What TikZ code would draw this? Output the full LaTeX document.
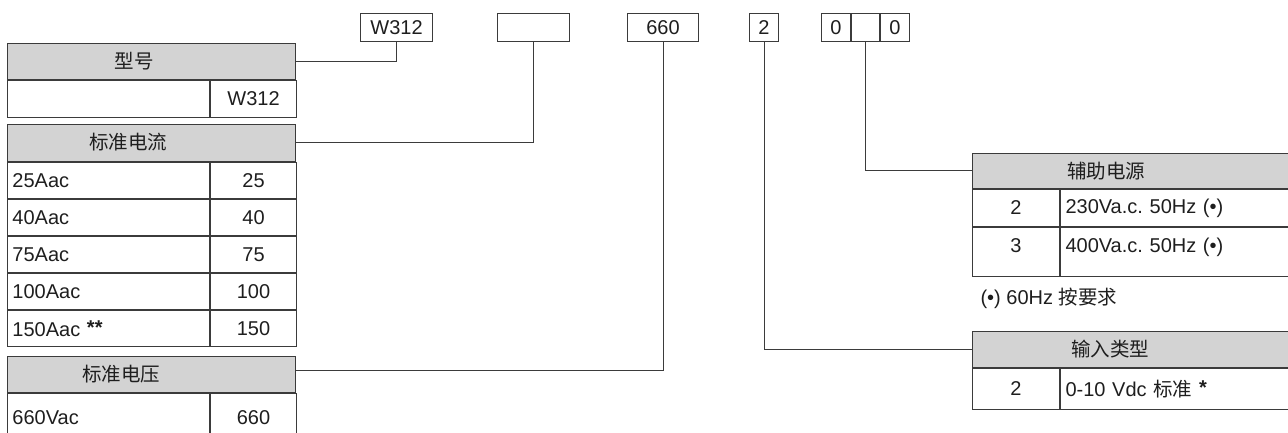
\documentclass[tikz,border=0pt]{standalone}
\usepackage{fontspec}
\setmainfont{Liberation Sans}
\newfontfamily\cjk{Noto Sans CJK SC}
\usepackage{tikz}
\usetikzlibrary{positioning}
\definecolor{ln}{HTML}{3B3B3B}
\definecolor{hd}{HTML}{D3D3D3}
\definecolor{tx}{HTML}{1E1E1E}
\newcommand{\Zh}[1]{{\cjk\fontsize{19.5}{23}\selectfont #1}}
\newcommand{\Ast}[1]{\raisebox{2pt}{\textbf{#1}}}
\frenchspacing
\tikzset{
  every node/.style={font=\fontsize{20}{24}\selectfont, text=tx},
  hdbox/.style={draw=ln, fill=hd, line width=1pt, inner sep=0pt, anchor=north west, minimum height=36pt},
  cellbox/.style={draw=ln, line width=1pt, inner xsep=5pt, inner ysep=0pt, anchor=north west, minimum height=36pt},
  lcol/.style={cellbox, text width=192pt, align=left},
  rcol/.style={cellbox, text width=76pt, align=center},
  keycol/.style={cellbox, text width=77pt, align=center},
  valcol/.style={cellbox, text width=231pt, align=left},
  codebox/.style={draw=ln, line width=1pt, inner sep=0pt, anchor=north west, minimum height=28pt},
  lead/.style={draw=ln, line width=1pt}
}

\begin{document}
\begin{tikzpicture}[x=1pt, y=-1pt]
  \useasboundingbox (0,0) rectangle (1288,433);
  \clip (0,0) rectangle (1288,433);

  % order code boxes
  \node[codebox, minimum width=72pt] (bxW) at (360,13) {W312};
  \node[codebox, minimum width=72pt] (bxA) at (497,13) {};
  \node[codebox, minimum width=71pt] (bxV) at (627,13) {660};
  \node[codebox, minimum width=29pt] (bxI) at (749,13) {2};
  \node[codebox, minimum width=29pt] (bxP1) at (821,13) {0};
  \node[codebox, minimum width=28pt] (bxP2) at (bxP1.north east) {};
  \node[codebox, minimum width=29pt] (bxP3) at (bxP2.north east) {0};

  % model
  \node[hdbox, minimum width=288pt] (hdM) at (7,43) {};
  \node (hdMt) at (134,61) {\Zh{型号}};
  \node[lcol, minimum height=37pt] (ma1) at (hdM.south west) {};
  \node[rcol, minimum height=37pt] (mb1) at (ma1.north east) {W312};

  % rated current
  \node[hdbox, minimum width=288pt, minimum height=37pt] (hdI) at (7,124) {};
  \node (hdIt) at (128,142) {\Zh{标准电流}};
  \node[lcol] (ia1) at (hdI.south west) {25Aac};
  \node[rcol] (ib1) at (ia1.north east) {25};
  \node[lcol] (ia2) at (ia1.south west) {40Aac};
  \node[rcol] (ib2) at (ia2.north east) {40};
  \node[lcol] (ia3) at (ia2.south west) {75Aac};
  \node[rcol] (ib3) at (ia3.north east) {75};
  \node[lcol] (ia4) at (ia3.south west) {100Aac};
  \node[rcol] (ib4) at (ia4.north east) {100};
  \node[lcol] (ia5) at (ia4.south west) {150Aac \Ast{**}};
  \node[rcol] (ib5) at (ia5.north east) {150};

  % rated voltage
  \node[hdbox, minimum width=288pt] (hdU) at (7,356) {};
  \node (hdUt) at (121,374) {\Zh{标准电压}};
  \node[lcol, minimum height=48pt] (ua1) at (hdU.south west) {660Vac};
  \node[rcol, minimum height=48pt] (ub1) at (ua1.north east) {660};

  % auxiliary supply
  \node[hdbox, minimum width=328pt, minimum height=35pt] (hdS) at (972,153) {};
  \node (hdSt) at (1106,171) {\Zh{辅助电源}};
  \node[keycol, minimum height=37pt] (sa1) at (hdS.south west) {2};
  \node[valcol, minimum height=37pt] (sb1) at (sa1.north east) {230Va.c. 50Hz (•)};
  \node[keycol, minimum height=49pt] (sa2) at (sa1.south west) {3\rule[-13pt]{0pt}{13pt}};
  \node[valcol, minimum height=49pt] (sb2) at (sa2.north east) {400Va.c. 50Hz (•)\rule[-13pt]{0pt}{13pt}};
  \node[anchor=west] (note) at (977,298) {(•) 60Hz \Zh{按要求}};

  % input type
  \node[hdbox, minimum width=328pt] (hdT) at (972,331) {};
  \node (hdTt) at (1110,349) {\Zh{输入类型}};
  \node[keycol, minimum height=41pt] (ta1) at (hdT.south west) {2};
  \node[valcol, minimum height=41pt] (tb1) at (ta1.north east) {0-10 Vdc \Zh{标准} \Ast{*}};

  % leads
  \draw[lead] (bxW.south) |- (hdM.east);
  \draw[lead] (bxA.south) |- (hdI.east);
  \draw[lead] (bxV.south) |- ([yshift=4pt]hdU.east);
  \draw[lead] (bxI.south) |- (hdT.west);
  \draw[lead] (bxP2.south) |- (hdS.west);
\end{tikzpicture}
\end{document}
